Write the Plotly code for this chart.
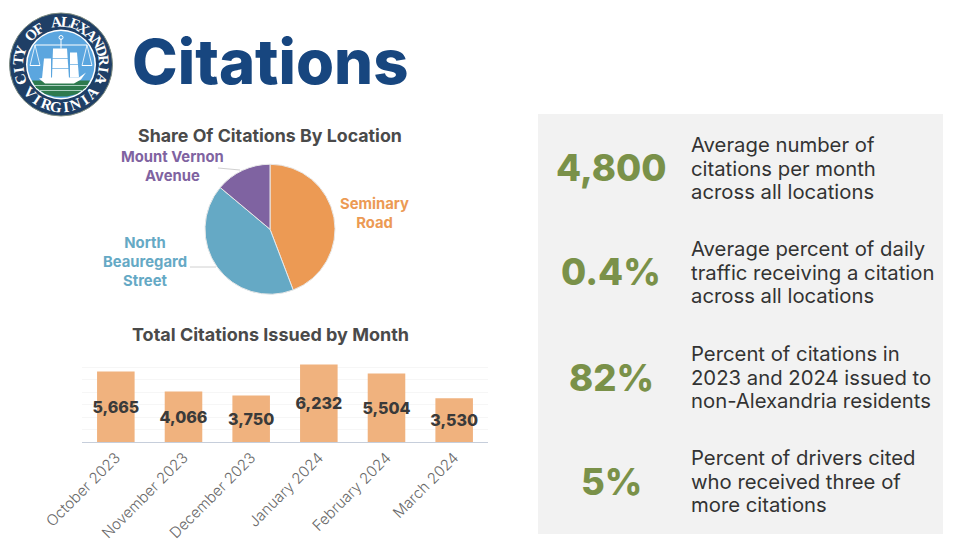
import math
import plotly.graph_objects as go

W, H = 980, 548
SANS = "Inter, 'Noto Sans', sans-serif"

locations = ["Seminary Road", "North Beauregard Street", "Mount Vernon Avenue"]
location_share = [44.2, 41.9, 13.9]
location_colors = ["#EC9A54", "#65A9C5", "#7F63A1"]

months = ["October 2023", "November 2023", "December 2023", "January 2024", "February 2024", "March 2024"]
citations = [5665, 4066, 3750, 6232, 5504, 3530]
bar_labels = ["5,665", "4,066", "3,750", "6,232", "5,504", "3,530"]

stat_values = ["4,800", "0.4%", "82%", "5%"]
stat_lines = [
    ["Average number of", "citations per month", "across all locations"],
    ["Average percent of daily", "traffic receiving a citation", "across all locations"],
    ["Percent of citations in", "2023 and 2024 issued to", "non-Alexandria residents"],
    ["Percent of drivers cited", "who received three of", "more citations"],
]


def px(x):
    return x / W


def py(y):
    return 1 - y / H


def note(text, x, y, size, color, weight=400, anchor="center", family=SANS, angle=0):
    return dict(text=text, x=px(x), y=py(y), xref="paper", yref="paper", showarrow=False,
                xanchor=anchor, yanchor="middle", textangle=angle,
                font=dict(size=size, color=color, family=family, weight=weight))


def rect(x0, y0, x1, y1, fill):
    return dict(type="rect", xref="paper", yref="paper", x0=px(x0), x1=px(x1), y0=py(y0), y1=py(y1),
                fillcolor=fill, line=dict(width=0), layer="below")


def circle(cx, cy, r, fill, line=None, lw=0):
    return dict(type="circle", xref="paper", yref="paper", x0=px(cx - r), x1=px(cx + r),
                y0=py(cy + r), y1=py(cy - r), fillcolor=fill,
                line=dict(width=lw, color=line or fill), layer="below")


def seg(x0, y0, x1, y1, color, lw=1):
    return dict(type="line", xref="paper", yref="paper", x0=px(x0), x1=px(x1), y0=py(y0), y1=py(y1),
                line=dict(color=color, width=lw))


def poly(points, fill):
    path = "M " + " L ".join(f"{px(a):.5f},{py(b):.5f}" for a, b in points) + " Z"
    return dict(type="path", xref="paper", yref="paper", path=path, fillcolor=fill, line=dict(width=0))


fig = go.Figure()

fig.add_trace(go.Pie(
    labels=locations, values=location_share, sort=False, direction="clockwise", rotation=0,
    marker=dict(colors=location_colors, line=dict(color="#E8E8E8", width=1)),
    textinfo="none", showlegend=False, hoverinfo="label+percent",
    domain=dict(x=[px(205), px(335)], y=[py(294.5), py(164)]),
))

fig.add_trace(go.Bar(
    x=months, y=citations, text=bar_labels, textposition="inside", insidetextanchor="middle",
    textangle=0, constraintext="none", cliponaxis=False,
    textfont=dict(size=16, color="#3A3A3A", family=SANS, weight=800),
    marker=dict(color="#F0B27E", line=dict(width=0)), width=0.555, showlegend=False,
))

fig.update_xaxes(
    domain=[px(82), px(488)], anchor="y", tickangle=-45, ticks="", showgrid=False,
    showline=True, linecolor="#C6CEDB", linewidth=1, zeroline=False, automargin=False,
    tickfont=dict(size=15, color="#6A6A6A", family=SANS, weight=300),
)
fig.update_yaxes(
    domain=[py(442), py(355)], range=[0, 7000], dtick=1000, showticklabels=False, ticks="",
    showgrid=True, gridcolor="#F6F6F6", gridwidth=1, zeroline=False, automargin=False,
)

anns = [
    note("Citations", 269.5, 61, 61.5, "#17467F", 800),
    note("Share Of Citations By Location", 269.5, 135, 17.8, "#4A4A4A", 700),
    note("Total Citations Issued by Month", 270, 335, 18, "#4A4A4A", 700),
    note("Mount Vernon<br>Avenue", 172, 166.5, 14.8, location_colors[2], 700),
    note("Seminary<br>Road", 374, 213.5, 14.8, location_colors[0], 700),
    note("North<br>Beauregard<br>Street", 145, 262, 14.8, location_colors[1], 700),
]

stat_centers = [168, 272, 378, 482]
text_centers = [168, 272, 377, 481]
for value, lines, yc, yt in zip(stat_values, stat_lines, stat_centers, text_centers):
    anns.append(note(value, 611, yc, 36.5, "#7A9149", 800))
    for i, line in enumerate(lines):
        anns.append(note(line, 689, yt + (i - 1) * 23.3, 20.3, "#333333", 400, anchor="left"))

shapes = [
    rect(538, 114, 943, 534, "#F2F2F2"),
    seg(218, 168, 240, 170, "#D0D0D0"),
    seg(190, 267, 216, 267, "#D0D0D0"),
]

# City seal
cx, cy = 61, 64.5
SKY = "#5BA6DF"
shapes += [
    circle(cx, cy, 51.5, "#1F3F66", "#7F8C80", 1),
    circle(cx, cy, 35, "#FFFFFF"),
    circle(cx, cy, 33.5, SKY),
    poly([(cx - 29, cy + 16), (cx + 29, cy + 16), (cx + 25, cy + 23), (cx + 16, cy + 29.5),
          (cx + 6, cy + 32), (cx - 6, cy + 32), (cx - 16, cy + 29.5), (cx - 25, cy + 23)], "#2E7A4E"),
    seg(cx - 26, cy + 21, cx + 26, cy + 21, "#A9CFC0", 1),
    seg(cx - 22, cy + 26, cx + 22, cy + 26, "#A9CFC0", 1),
    poly([(cx - 22, cy + 14), (cx - 16, cy + 13), (cx + 18, cy + 13), (cx + 25, cy + 8),
          (cx + 20, cy + 15), (cx + 13, cy + 19), (cx - 16, cy + 19)], "#FFFFFF"),
    poly([(cx - 8, cy - 16), (cx + 6, cy - 16), (cx + 8, cy + 14), (cx - 9, cy + 14)], "#FFFFFF"),
    poly([(cx - 17, cy - 6), (cx - 10, cy - 6), (cx - 10, cy + 14), (cx - 19, cy + 14)], "#FFFFFF"),
    poly([(cx + 9, cy - 12), (cx + 16, cy - 12), (cx + 18, cy + 13), (cx + 9, cy + 13)], "#FFFFFF"),
    seg(cx - 9, cy - 6, cx + 8, cy - 6, SKY, 0.7),
    seg(cx - 9, cy + 4, cx + 8, cy + 4, SKY, 0.7),
    seg(cx + 9, cy + 0, cx + 18, cy + 0, SKY, 0.7),
    seg(cx - 26, cy - 19.5, cx + 26, cy - 19.5, "#FFFFFF", 1),
    seg(cx, cy - 26, cx, cy - 16, "#FFFFFF", 1),
    circle(cx, cy - 27, 2, SKY, "#FFFFFF", 1),
    seg(cx - 26, cy - 19.5, cx - 31, cy + 1, "#FFFFFF", 0.8),
    seg(cx - 26, cy - 19.5, cx - 21, cy + 1, "#FFFFFF", 0.8),
    seg(cx + 26, cy - 19.5, cx + 31, cy + 1, "#FFFFFF", 0.8),
    seg(cx + 26, cy - 19.5, cx + 21, cy + 1, "#FFFFFF", 0.8),
    seg(cx - 31, cy + 1, cx - 21, cy + 1, "#FFFFFF", 1),
    seg(cx + 21, cy + 1, cx + 31, cy + 1, "#FFFFFF", 1),
]

for sign in (-1, 1):
    a = math.radians(sign * 66)
    shapes.append(circle(cx + 43 * math.sin(a), cy + 43 * math.cos(a), 1.4, "#FFFFFF"))

SERIF = "'Liberation Serif', serif"
ring = 42.5
top_text = "CITY OF ALEXANDRIA"
step = 13
start = -step * (len(top_text) - 1) / 2
for i, ch in enumerate(top_text):
    if ch == " ":
        continue
    a = start + i * step
    anns.append(note(ch, cx + ring * math.sin(math.radians(a)), cy - ring * math.cos(math.radians(a)),
                     15, "#FFFFFF", 700, family=SERIF, angle=a))
bottom_text = "VIRGINIA"
step = 13.5
start = -step * (len(bottom_text) - 1) / 2
for i, ch in enumerate(bottom_text):
    a = start + i * step
    anns.append(note(ch, cx + ring * math.sin(math.radians(a)), cy + ring * math.cos(math.radians(a)),
                     15, "#FFFFFF", 700, family=SERIF, angle=-a))

fig.update_layout(
    width=W, height=H, margin=dict(l=0, r=0, t=0, b=0), autosize=False,
    paper_bgcolor="#FFFFFF", plot_bgcolor="rgba(0,0,0,0)", showlegend=False,
    annotations=anns, shapes=shapes, bargap=0.445,
)

fig.write_html("out.html", config=dict(displayModeBar=False),
               post_script="document.body.style.margin='0';document.body.style.overflow='hidden';")
